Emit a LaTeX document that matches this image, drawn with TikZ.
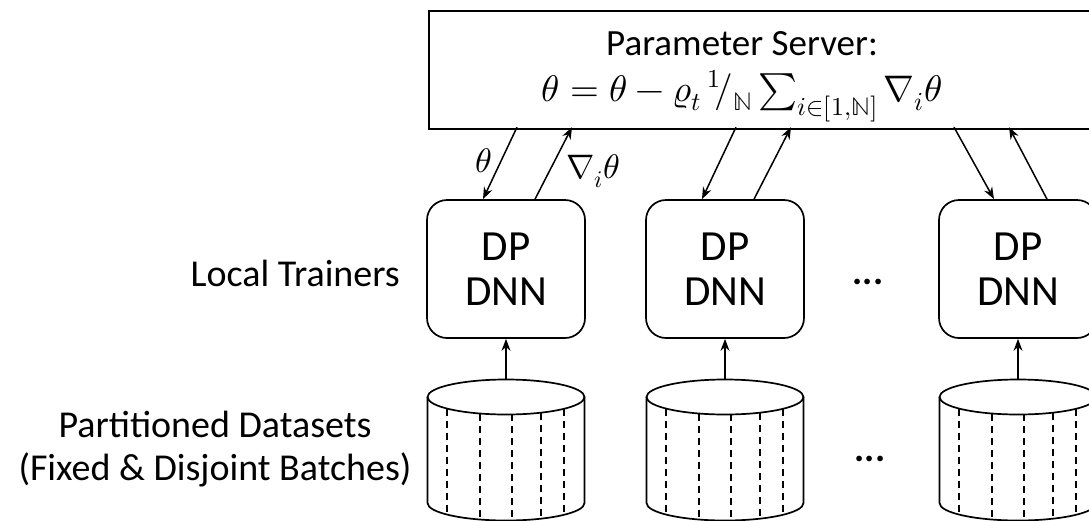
\documentclass[tikz,border=0pt]{standalone}
\usepackage{amsmath}
\usepackage{fontspec}
\usepackage{unicode-math}
\setmainfont{Carlito}
\setmathfont{Latin Modern Math}
\usetikzlibrary{arrows.meta,calc}

\begin{document}
\begin{tikzpicture}[
            x=1pt, y=-1pt,
            line width=1.7pt,
            arr/.style={-{Stealth[length=12pt,width=9pt]}, line width=1.5pt},
            trainer/.style={draw, rounded corners=20pt, minimum width=158pt,
                minimum height=138pt, align=center, inner sep=0pt,
                font=\fontsize{43}{45}\selectfont},
            lbl/.style={align=center, font=\fontsize{38}{43}\selectfont},
            declare function={
                Rx=78.5;
                Ry=17.5;
                TopY=397;
                BotY=503;
            }
        ]
            \useasboundingbox (0,0) rectangle (1089,520);
            \clip (0,0) rectangle (1089,520);

            % parameter server
            \node[draw, anchor=north west, minimum width=672pt, minimum height=118pt, inner sep=0pt] (server) at (428,10) {};
            \node[lbl, anchor=base, inner sep=0pt, font=\fontsize{37}{46}\selectfont] (srvtitle) at (742,55) {Parameter Server:};
            \node[lbl, anchor=base, inner sep=0pt, font=\fontsize{37}{46}\selectfont] (srvformula) at (742,101)
                {$\theta = \theta - \varrho_t\, {}^{1}\!/_{\mathbb{N}} \sum_{i\in[1,\mathbb{N}]} \nabla_i\theta$};

            % left labels
            \node[lbl, anchor=east] (trainlbl) at (404,273) {Local Trainers};
            \node[lbl] (datalbl) at (215,449) {Partitioned Datasets\\(Fixed \& Disjoint Batches)};

            % trainers and datasets
            \foreach \cx/\n in {506/1,725/2,1018/3} {
                \node[trainer] (t\n) at (\cx,269) {DP\\DNN};
                \draw (\cx-Rx,TopY) -- (\cx-Rx,BotY) arc[start angle=180, end angle=360, x radius=78.5pt, y radius=17.5pt] -- (\cx+Rx,TopY);
                \draw (\cx,TopY) ellipse[x radius=78.5pt, y radius=17.5pt];
                \foreach \dx in {-59,-26,6,35,58}
                    \draw[dashed, dash pattern=on 7pt off 5pt] (\cx+\dx, {TopY+Ry*sqrt(1-(\dx/Rx)^2)}) -- (\cx+\dx, {BotY+Ry*sqrt(1-(\dx/Rx)^2)});
                \coordinate (d\n) at (\cx,TopY-Ry);
                \draw[arr] (d\n) -- (t\n.south);
            }

            \node[lbl, anchor=base, font=\fontsize{38}{43}\bfseries] (dots1) at (868,284) {...};
            \node[lbl, anchor=base, font=\fontsize{38}{43}\bfseries] (dots2) at (870,461) {...};

            % exchanges with the server
            \draw[arr] ($(t1.north)+(11,-72)$) -- ($(t1.north)+(-23,0)$);
            \draw[arr] ($(t1.north)+(29,0)$) -- ($(t1.north)+(66,-72)$);
            \draw[arr] ($(t2.north)+(11,-72)$) -- ($(t2.north)+(-23,0)$);
            \draw[arr] ($(t2.north)+(29,0)$) -- ($(t2.north)+(66,-72)$);
            \draw[arr] ($(t3.north)+(-64,-72)$) -- ($(t3.north)+(-24,0)$);
            \draw[arr] ($(t3.north)+(29,0)$) -- ($(t3.north)+(-9,-72)$);

            \node[lbl, font=\fontsize{34}{40}\selectfont] (thlbl) at (484,161) {$\theta$};
            \node[lbl, font=\fontsize{34}{40}\selectfont] (gradlbl) at (593,171) {$\nabla_i\theta$};
        \end{tikzpicture}
\end{document}
